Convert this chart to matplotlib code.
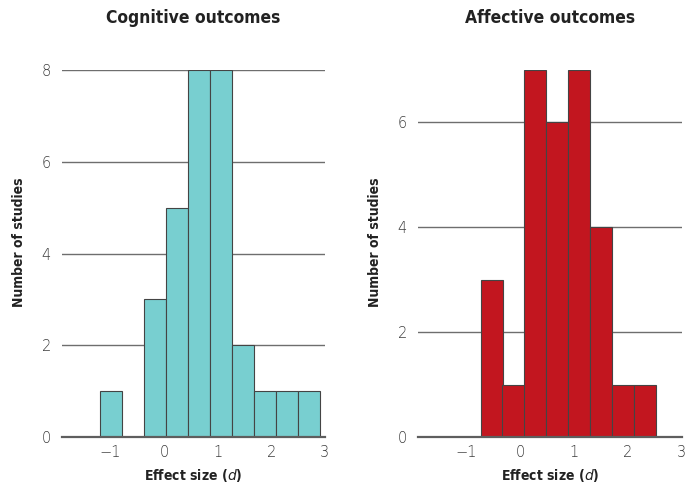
import numpy as np
from matplotlib import pyplot as plt

# histogram bins (left edge of each bin, width in d units)
cog_left = [-1.20, -0.79, -0.38, 0.03, 0.44, 0.85, 1.26, 1.67, 2.08, 2.49]
cog_count = [1, 0, 3, 5, 8, 8, 2, 1, 1, 1]
aff_left = [-0.73, -0.33, 0.07, 0.48, 0.89, 1.30, 1.70, 2.11]
aff_count = [3, 1, 7, 6, 7, 4, 1, 1]
bin_w = 0.41

xticks = [-1, 0, 1, 2, 3]
xtick_labels = ['\u22121', '0', '1', '2', '3']

cog_color = '#78CFD0'
aff_color = '#C2161F'

bold_font = dict(family='DejaVu Sans', fontstretch='condensed', fontweight='bold')

fig = plt.figure(figsize=(6.94, 4.86), dpi=100)
ax1 = fig.add_axes([0.0893, 0.1008, 0.379, 0.755])
ax2 = fig.add_axes([0.6023, 0.1008, 0.380, 0.755])


def draw(ax, left, count, color, title, ymax, yticks):
    ax.bar(left, count, width=bin_w, align='edge', color=color,
           edgecolor='#444444', linewidth=0.8, zorder=3)
    ax.set_xlim(-1.9, 3.0)
    ax.set_ylim(0, ymax)
    ax.set_yticks(yticks)
    ax.set_xticks(xticks)
    ax.set_xticklabels(xtick_labels)
    ax.yaxis.grid(True, color='#6e6e6e', linewidth=1.0, zorder=0)
    ax.set_axisbelow(True)
    for s in ['top', 'right', 'left']:
        ax.spines[s].set_visible(False)
    ax.spines['bottom'].set_color('#5e5e5e')
    ax.spines['bottom'].set_linewidth(1.6)
    ax.spines['bottom'].set_zorder(4)
    ax.tick_params(axis='y', length=0, pad=8, labelsize=10.5, labelcolor='#3c3c3c')
    ax.tick_params(axis='x', length=0, pad=6, labelsize=10.5, labelcolor='#3c3c3c')
    for lab in ax.get_xticklabels() + ax.get_yticklabels():
        lab.set_fontweight('light')
    ax.set_title(title, fontsize=12.5, pad=34, color='#222222', **bold_font)
    ax.set_ylabel('Number of studies', fontsize=10, color='#222222', **bold_font)
    ax.yaxis.set_label_coords(-0.135, 0.53)
    ax.set_xlabel('Effect size ($\\mathit{d}$)', fontsize=10, color='#222222', labelpad=5, **bold_font)


draw(ax1, cog_left, cog_count, cog_color, 'Cognitive outcomes', 8, [0, 2, 4, 6, 8])
draw(ax2, aff_left, aff_count, aff_color, 'Affective outcomes', 7, [0, 2, 4, 6])

plt.savefig('out.png', dpi=100)
